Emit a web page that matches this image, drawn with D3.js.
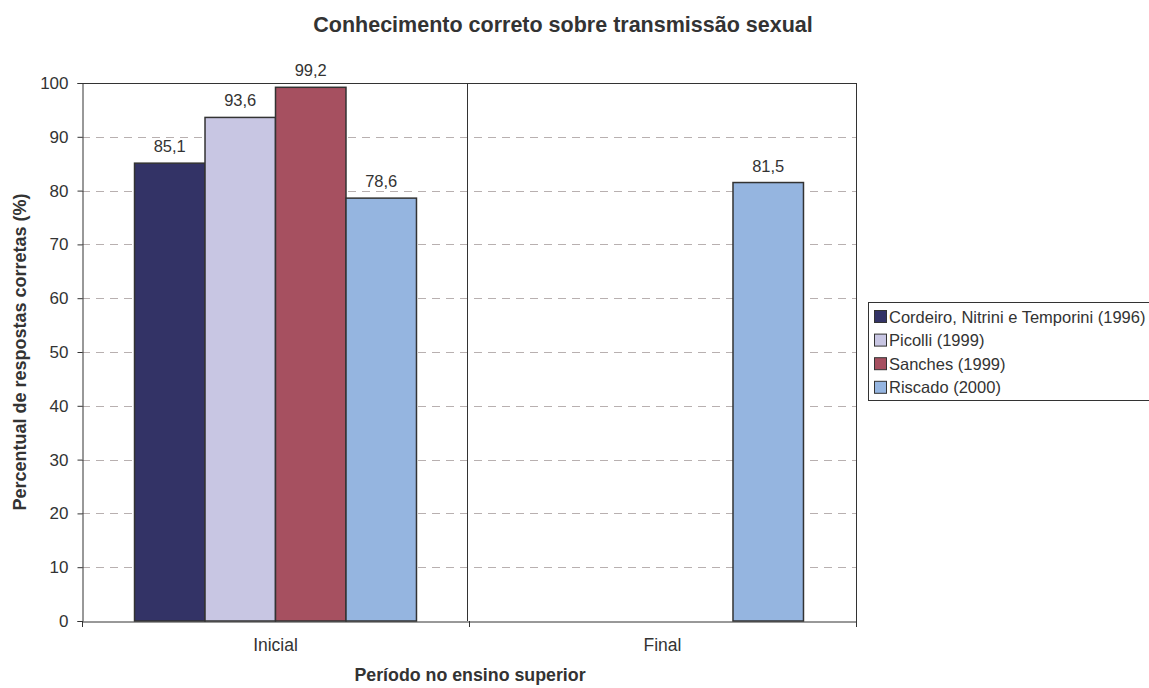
<!DOCTYPE html>
<html>
<head>
<meta charset="utf-8">
<script src="https://cdn.jsdelivr.net/npm/d3@7"></script>
<style>
  body { margin: 0; background: #fff; }
  text { font-family: "Liberation Sans", Arial, sans-serif; fill: #333; }
</style>
</head>
<body>
<svg id="chart" width="1149" height="688"></svg>
<script>
// Categories, series and values
const categories = ["Inicial", "Final"];
const seriesNames = [
  "Cordeiro, Nitrini e Temporini (1996)",
  "Picolli (1999)",
  "Sanches (1999)",
  "Riscado (2000)"
];
const cordeiro = [85.1, null];
const picolli  = [93.6, null];
const sanches  = [99.2, null];
const riscado  = [78.6, 81.5];
const yTicks = [0, 10, 20, 30, 40, 50, 60, 70, 80, 90, 100];
const colors = ["#333366", "#c8c6e3", "#a65060", "#95b5e0"];

const seriesValues = [cordeiro, picolli, sanches, riscado];

const svg = d3.select("#chart");
const plotLeft = 82, plotRight = 856, plotTop = 83, plotBottom = 621;
const FONT = "Liberation Sans, Arial, sans-serif";

const x0 = d3.scaleBand().domain(categories).range([plotLeft, plotRight]).paddingInner(0).paddingOuter(0);
const x1 = d3.scaleBand().domain(d3.range(seriesNames.length))
  .range([0, x0.bandwidth()]).paddingOuter(0.745).paddingInner(0);
const y = d3.scaleLinear().domain([0, 100]).range([plotBottom, plotTop]);

// Gridlines
svg.append("g").selectAll("line").data(yTicks.filter(t => t > 0 && t < 100)).join("line")
  .attr("x1", plotLeft).attr("x2", plotRight)
  .attr("y1", d => Math.round(y(d)) + 0.5).attr("y2", d => Math.round(y(d)) + 0.5)
  .attr("stroke", "#b8b0b0").attr("stroke-dasharray", "8,6");

// Plot frame (top and right) and category separator
svg.append("line").attr("x1", plotLeft).attr("x2", plotRight).attr("y1", plotTop + 0.5).attr("y2", plotTop + 0.5).attr("stroke", "#333");
svg.append("line").attr("x1", plotRight + 0.5).attr("x2", plotRight + 0.5).attr("y1", plotTop).attr("y2", plotBottom).attr("stroke", "#333");
svg.append("line").attr("x1", x0("Final") - 1.5).attr("x2", x0("Final") - 1.5).attr("y1", plotTop).attr("y2", plotBottom).attr("stroke", "#333");

// Bars
const rows = [];
categories.forEach((c, ci) => seriesValues.forEach((vals, si) => {
  if (vals[ci] != null) rows.push({ c, si, v: vals[ci] });
}));
svg.append("g").selectAll("rect").data(rows).join("rect")
  .attr("x", d => x0(d.c) + x1(d.si))
  .attr("y", d => y(d.v))
  .attr("width", x1.bandwidth())
  .attr("height", d => y(0) - y(d.v))
  .attr("fill", d => colors[d.si])
  .attr("stroke", "#333").attr("stroke-width", 1.5);

// Value labels
svg.append("g").selectAll("text").data(rows).join("text")
  .attr("x", d => x0(d.c) + x1(d.si) + x1.bandwidth() / 2)
  .attr("y", d => y(d.v) - 11)
  .attr("text-anchor", "middle").attr("font-size", 16.5)
  .text(d => d.v.toFixed(1).replace(".", ","));

// Y axis
const yAxis = svg.append("g").attr("transform", `translate(${plotLeft + 0.5},0)`)
  .call(d3.axisLeft(y).tickValues(yTicks).tickSize(5).tickPadding(9));
yAxis.select(".domain").attr("stroke", "#333");
yAxis.selectAll(".tick line").attr("stroke", "#333");
yAxis.selectAll("text").attr("font-size", 17).attr("font-family", FONT).attr("fill", "#333");

// X axis
const xAxis = svg.append("g").attr("transform", `translate(0,${plotBottom + 0.5})`)
  .call(d3.axisBottom(x0).tickSize(0).tickPadding(17));
xAxis.select(".domain").attr("stroke", "#333");
xAxis.selectAll("text").attr("font-size", 17.5).attr("font-family", FONT).attr("fill", "#333");
svg.append("g").selectAll("line").data([plotLeft, x0("Final"), plotRight]).join("line")
  .attr("x1", d => d + 0.5).attr("x2", d => d + 0.5)
  .attr("y1", plotBottom).attr("y2", plotBottom + 6).attr("stroke", "#333");

// Titles
svg.append("text").attr("x", 563).attr("y", 32).attr("text-anchor", "middle")
  .attr("font-size", 21.5).attr("font-weight", "bold").text("Conhecimento correto sobre transmissão sexual");
svg.append("text").attr("x", 470).attr("y", 681).attr("text-anchor", "middle")
  .attr("font-size", 17.8).attr("font-weight", "bold").text("Período no ensino superior");
svg.append("text").attr("transform", `translate(26,${(plotTop + plotBottom) / 2}) rotate(-90)`)
  .attr("text-anchor", "middle").attr("font-size", 18).attr("font-weight", "bold")
  .text("Percentual de respostas corretas (%)");

// Legend
const lg = svg.append("g").attr("transform", "translate(868,302)");
lg.append("rect").attr("x", 0.5).attr("y", 0.5).attr("width", 300).attr("height", 98)
  .attr("fill", "#fff").attr("stroke", "#333");
const items = lg.selectAll("g").data(seriesNames).join("g")
  .attr("transform", (d, i) => `translate(6,${14 + i * 23.6})`);
items.append("rect").attr("x", 0.5).attr("y", -5.5).attr("width", 12).attr("height", 12)
  .attr("fill", (d, i) => colors[i]).attr("stroke", "#333");
items.append("text").attr("x", 15).attr("y", 6.5).attr("font-size", 16.5).text(d => d);
</script>
</body>
</html>
